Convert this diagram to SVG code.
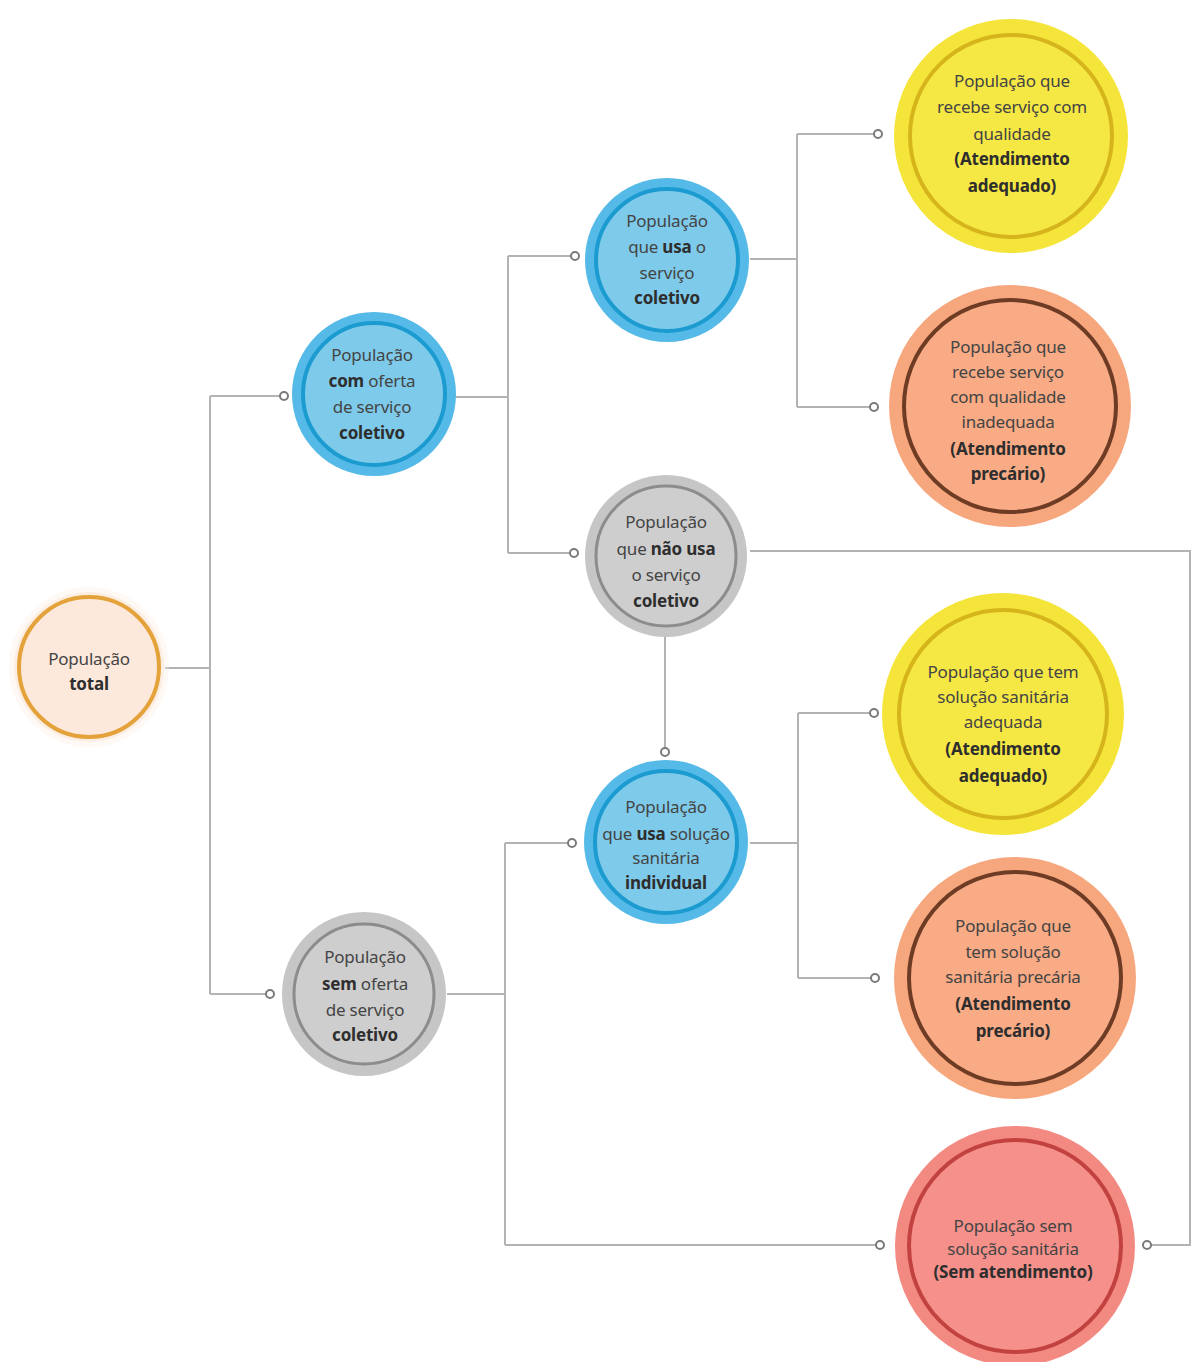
<svg xmlns="http://www.w3.org/2000/svg" width="1193" height="1362" viewBox="0 0 1193 1362">
<style>
.ln{fill:none;stroke:#b3b3b3;stroke-width:2}
.dot{fill:#ffffff;stroke:#7a7a7a;stroke-width:2}
text{font-family:"Noto Sans","Open Sans",sans-serif;font-size:17px;fill:#444444;text-anchor:middle;letter-spacing:-0.2px}
.b{font-weight:bold;fill:#2e2e2e}
.halo{opacity:0.35}
</style>
<rect width="1193" height="1362" fill="#ffffff"/>
<g id="connectors">
<path class="ln" d="M165 668 H210 M210 396 V994 M210 396 H280 M210 994 H266"/>
<path class="ln" d="M455 397 H508 M508 256 V553 M508 256 H571 M508 553 H570"/>
<path class="ln" d="M750 259 H797 M797 134 V407 M797 134 H874 M797 407 H870"/>
<path class="ln" d="M750 551 H1190 V1245 H1151"/>
<path class="ln" d="M665 637 V748"/>
<path class="ln" d="M447 994 H505 M505 843 V1245 M505 843 H568 M505 1245 H876"/>
<path class="ln" d="M750 843 H798 M798 713 V978 M798 713 H870 M798 978 H871"/>
<circle class="dot" cx="284" cy="396" r="4"/>
<circle class="dot" cx="270" cy="994" r="4"/>
<circle class="dot" cx="575" cy="256" r="4"/>
<circle class="dot" cx="574" cy="553" r="4"/>
<circle class="dot" cx="878" cy="134" r="4"/>
<circle class="dot" cx="874" cy="407" r="4"/>
<circle class="dot" cx="1147" cy="1245" r="4"/>
<circle class="dot" cx="665" cy="752" r="4"/>
<circle class="dot" cx="572" cy="843" r="4"/>
<circle class="dot" cx="880" cy="1245" r="4"/>
<circle class="dot" cx="874" cy="713" r="4"/>
<circle class="dot" cx="875" cy="978" r="4"/>
</g>
<g id="n-total">
<circle cx="89" cy="667" r="80" fill="#fdeee2" class="halo"/>
<circle cx="89" cy="667" r="75" fill="#fdeee4"/>
<circle cx="89" cy="667" r="70" fill="#fde8dc" stroke="#e4a23b" stroke-width="4"/>
<text x="89" y="665">População</text>
<text x="89" y="690" class="b">total</text>
</g>
<g id="n-com-oferta">
<circle cx="374" cy="394" r="82" fill="#55bae7"/>
<circle cx="374" cy="394" r="71" fill="#7ecaea" stroke="#1b9bd0" stroke-width="4"/>
<text x="372" y="361">População</text>
<text x="372" y="387"><tspan class="b">com</tspan> oferta</text>
<text x="372" y="413">de serviço</text>
<text x="372" y="439" class="b">coletivo</text>
</g>
<g id="n-usa-servico">
<circle cx="667" cy="260" r="82" fill="#55bae7"/>
<circle cx="667" cy="260" r="71" fill="#7ecaea" stroke="#1b9bd0" stroke-width="4"/>
<text x="667" y="227">População</text>
<text x="667" y="253">que <tspan class="b">usa</tspan> o</text>
<text x="667" y="279">serviço</text>
<text x="667" y="304" class="b">coletivo</text>
</g>
<g id="n-nao-usa">
<circle cx="666" cy="556" r="81" fill="#c6c6c6"/>
<circle cx="666" cy="556" r="70" fill="#cecece" stroke="#8c8c8c" stroke-width="3"/>
<text x="666" y="528">População</text>
<text x="666" y="555">que <tspan class="b">não usa</tspan></text>
<text x="666" y="581">o serviço</text>
<text x="666" y="607" class="b">coletivo</text>
</g>
<g id="n-solucao-individual">
<circle cx="666" cy="842" r="82" fill="#55bae7"/>
<circle cx="666" cy="842" r="71" fill="#7ecaea" stroke="#1b9bd0" stroke-width="4"/>
<text x="666" y="813">População</text>
<text x="666" y="840">que <tspan class="b">usa</tspan> solução</text>
<text x="666" y="864">sanitária</text>
<text x="666" y="889" class="b">individual</text>
</g>
<g id="n-sem-oferta">
<circle cx="364" cy="994" r="82" fill="#c6c6c6"/>
<circle cx="364" cy="994" r="70" fill="#cecece" stroke="#8c8c8c" stroke-width="3"/>
<text x="365" y="963">População</text>
<text x="365" y="990"><tspan class="b">sem</tspan> oferta</text>
<text x="365" y="1016">de serviço</text>
<text x="365" y="1041" class="b">coletivo</text>
</g>
<g id="n-qualidade">
<circle cx="1011" cy="136" r="117" fill="#f5e53a"/>
<circle cx="1011" cy="136" r="101" fill="#f6e844" stroke="#d6b41c" stroke-width="4"/>
<text x="1012" y="87">População que</text>
<text x="1012" y="113">recebe serviço com</text>
<text x="1012" y="140">qualidade</text>
<text x="1012" y="165" class="b">(Atendimento</text>
<text x="1012" y="192" class="b">adequado)</text>
</g>
<g id="n-inadequada">
<circle cx="1010" cy="406" r="121" fill="#f7a77e"/>
<circle cx="1010" cy="406" r="106" fill="#f8ab85" stroke="#6e3b24" stroke-width="4"/>
<text x="1008" y="353">População que</text>
<text x="1008" y="378">recebe serviço</text>
<text x="1008" y="403">com qualidade</text>
<text x="1008" y="428">inadequada</text>
<text x="1008" y="455" class="b">(Atendimento</text>
<text x="1008" y="480" class="b">precário)</text>
</g>
<g id="n-solucao-adequada">
<circle cx="1003" cy="714" r="121" fill="#f5e53a"/>
<circle cx="1003" cy="714" r="104" fill="#f6e844" stroke="#d6b41c" stroke-width="4"/>
<text x="1003" y="678">População que tem</text>
<text x="1003" y="703">solução sanitária</text>
<text x="1003" y="728">adequada</text>
<text x="1003" y="755" class="b">(Atendimento</text>
<text x="1003" y="782" class="b">adequado)</text>
</g>
<g id="n-solucao-precaria">
<circle cx="1015" cy="978" r="121" fill="#f7a77e"/>
<circle cx="1015" cy="978" r="106" fill="#f8ab85" stroke="#6e3b24" stroke-width="4"/>
<text x="1013" y="932">População que</text>
<text x="1013" y="958">tem solução</text>
<text x="1013" y="983">sanitária precária</text>
<text x="1013" y="1010" class="b">(Atendimento</text>
<text x="1013" y="1037" class="b">precário)</text>
</g>
<g id="n-sem-atendimento">
<circle cx="1015" cy="1246" r="120" fill="#f38a82"/>
<circle cx="1015" cy="1246" r="106" fill="#f5908a" stroke="#c2423f" stroke-width="4"/>
<text x="1013" y="1232">População sem</text>
<text x="1013" y="1255">solução sanitária</text>
<text x="1013" y="1278" class="b">(Sem atendimento)</text>
</g>
</svg>
